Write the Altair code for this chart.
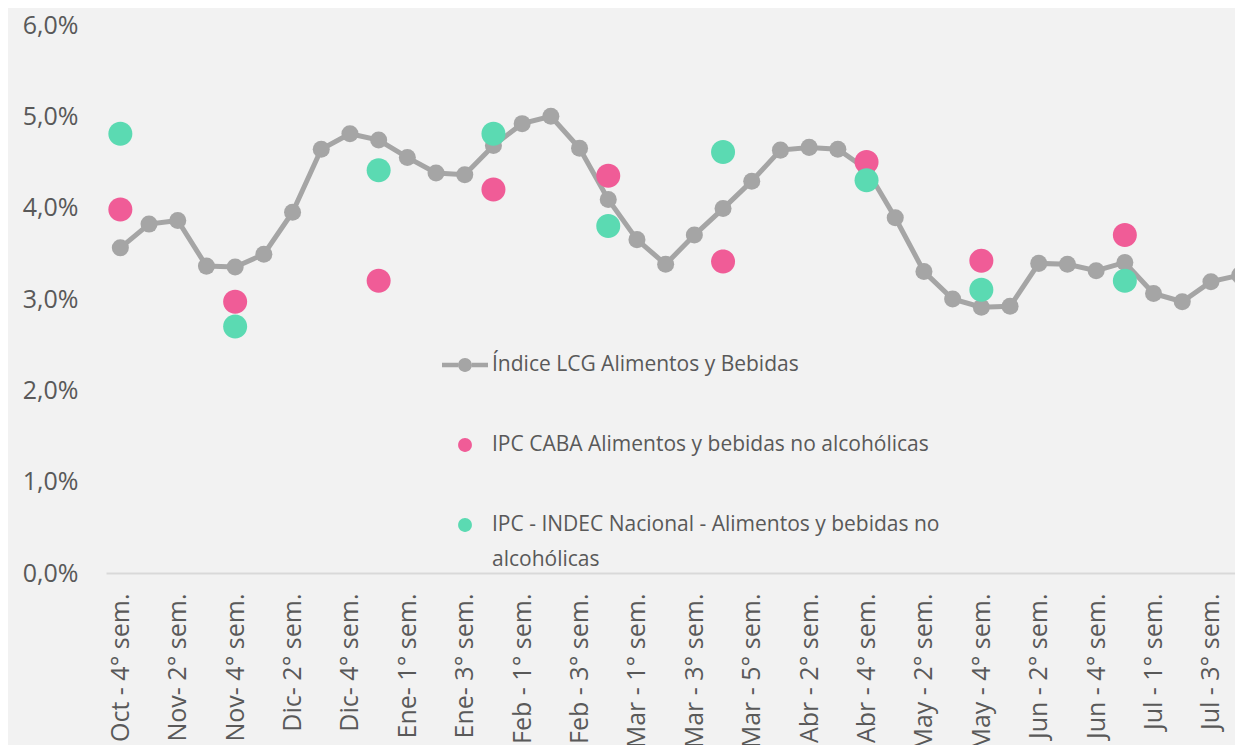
import altair as alt
import pandas as pd

# ---------------- data ----------------
weeks = [
    "Oct - 4° sem.", "Nov- 1° sem.", "Nov- 2° sem.", "Nov- 3° sem.", "Nov- 4° sem.",
    "Dic- 1° sem.", "Dic- 2° sem.", "Dic- 3° sem.", "Dic- 4° sem.", "Dic- 5° sem.",
    "Ene- 1° sem.", "Ene- 2° sem.", "Ene- 3° sem.", "Ene- 4° sem.",
    "Feb - 1° sem.", "Feb - 2° sem.", "Feb - 3° sem.", "Feb - 4° sem.",
    "Mar - 1° sem.", "Mar - 2° sem.", "Mar - 3° sem.", "Mar - 4° sem.", "Mar - 5° sem.",
    "Abr - 1° sem.", "Abr - 2° sem.", "Abr - 3° sem.", "Abr - 4° sem.",
    "May - 1° sem.", "May - 2° sem.", "May - 3° sem.", "May - 4° sem.",
    "Jun - 1° sem.", "Jun - 2° sem.", "Jun - 3° sem.", "Jun - 4° sem.", "Jun - 5° sem.",
    "Jul - 1° sem.", "Jul - 2° sem.", "Jul - 3° sem.", "Jul - 4° sem.",
]
lcg = [3.56, 3.82, 3.86, 3.36, 3.35, 3.49, 3.95, 4.64, 4.81, 4.74,
       4.55, 4.38, 4.36, 4.68, 4.92, 5.00, 4.65, 4.09, 3.65, 3.38,
       3.70, 3.99, 4.29, 4.63, 4.66, 4.64, 4.42, 3.89, 3.30, 3.00,
       2.91, 2.92, 3.39, 3.38, 3.31, 3.40, 3.06, 2.97, 3.19, 3.26]

month_weeks = ["Oct - 4° sem.", "Nov- 4° sem.", "Dic- 5° sem.", "Ene- 4° sem.",
               "Feb - 4° sem.", "Mar - 4° sem.", "Abr - 4° sem.", "May - 4° sem.",
               "Jun - 5° sem."]
caba = [3.98, 2.97, 3.20, 4.20, 4.35, 3.41, 4.50, 3.42, 3.70]
indec = [4.81, 2.70, 4.41, 4.81, 3.80, 4.61, 4.30, 3.10, 3.20]

labeled_weeks = [
    "Oct - 4° sem.", "Nov- 2° sem.", "Nov- 4° sem.", "Dic- 2° sem.", "Dic- 4° sem.",
    "Ene- 1° sem.", "Ene- 3° sem.", "Feb - 1° sem.", "Feb - 3° sem.", "Mar - 1° sem.",
    "Mar - 3° sem.", "Mar - 5° sem.", "Abr - 2° sem.", "Abr - 4° sem.", "May - 2° sem.",
    "May - 4° sem.", "Jun - 2° sem.", "Jun - 4° sem.", "Jul - 1° sem.", "Jul - 3° sem.",
]
y_ticks = [0, 1, 2, 3, 4, 5, 6]

s_lcg = "Índice LCG Alimentos y Bebidas"
s_caba = "IPC CABA Alimentos y bebidas no alcohólicas"
s_indec = "IPC - INDEC Nacional - Alimentos y bebidas no alcohólicas"
series = [s_lcg, s_caba, s_indec]
colors = ["#A5A5A5", "#F05C97", "#5BDAB2"]

LINE_PATH = ("M-1,-0.1 L-0.3,-0.1 L-0.3,0.1 L-1,0.1 Z "
             "M0.3,-0.1 L1,-0.1 L1,0.1 L0.3,0.1 Z "
             "M0.3,0 A0.3,0.3 0 1,1 -0.3,0 A0.3,0.3 0 1,1 0.3,0 Z")
CIRCLE_PATH = "M0.3,0 A0.3,0.3 0 1,1 -0.3,0 A0.3,0.3 0 1,1 0.3,0 Z"

df_lcg = pd.DataFrame({"week": weeks, "value": lcg})
df_pts = pd.DataFrame({
    "week": month_weeks + month_weeks,
    "value": caba + indec,
    "serie": [s_caba] * len(caba) + [s_indec] * len(indec),
})

FONT = "Open Sans"
TXT = "#595959"

x_enc = alt.X("week:N", sort=weeks, title=None,
              scale=alt.Scale(type="point", padding=0.5, domain=weeks, range=[0, 1148]),
              axis=alt.Axis(values=labeled_weeks, labelAngle=-90, labelFontSize=25,
                            labelFont=FONT, labelColor=TXT, ticks=False, tickSize=0,
                            labelPadding=20, domainColor="#D9D9D9", domainWidth=2,
                            grid=False, labelOverlap=False))
y_enc = alt.Y("value:Q", title=None,
              scale=alt.Scale(domain=[0, 6], nice=False, zero=True),
              axis=alt.Axis(values=y_ticks, labelFontSize=25, labelFont=FONT,
                            labelColor=TXT, ticks=False, tickSize=0, domain=False,
                            grid=False, labelPadding=28,
                            labelExpr="replace(format(datum.value, '.1f'), '.', ',') + '%'"))

line = alt.Chart(df_lcg).mark_line(color="#A5A5A5", strokeWidth=5).encode(x=x_enc, y=y_enc)
dots = alt.Chart(df_lcg).mark_circle(color="#A5A5A5", size=290, opacity=1).encode(x=x_enc, y=y_enc)

legend = alt.Legend(
    title=None, orient="none", legendX=336, legendY=317,
    symbolSize=2116, symbolStrokeWidth=0, labelFont=FONT, labelFontSize=21,
    labelColor=TXT, labelOffset=4, rowPadding=47, labelLimit=800,
    labelExpr=("indexof(datum.label, 'INDEC') >= 0 ? "
               "['IPC - INDEC Nacional - Alimentos y bebidas no', 'alcohólicas'] : datum.label"),
)
pts = alt.Chart(df_pts).mark_point(filled=True, opacity=1, size=6400, strokeWidth=0).encode(
    x=x_enc, y=y_enc,
    color=alt.Color("serie:N", scale=alt.Scale(domain=series, range=colors), legend=legend),
    shape=alt.Shape("serie:N", scale=alt.Scale(domain=series, range=[LINE_PATH, CIRCLE_PATH, CIRCLE_PATH]),
                    legend=legend),
)

chart = alt.layer(line, dots, pts).properties(
    width=1129, height=548,
    autosize=alt.AutoSizeParams(type="none"),
    padding={"left": 98, "top": 17, "right": 0, "bottom": 200},
    background="#F2F2F2",
).configure(style={"guide-label": {"lineHeight": 35}}).configure_view(stroke="transparent")

chart.save("out.html", embed_options={"renderer": "svg", "actions": False})
